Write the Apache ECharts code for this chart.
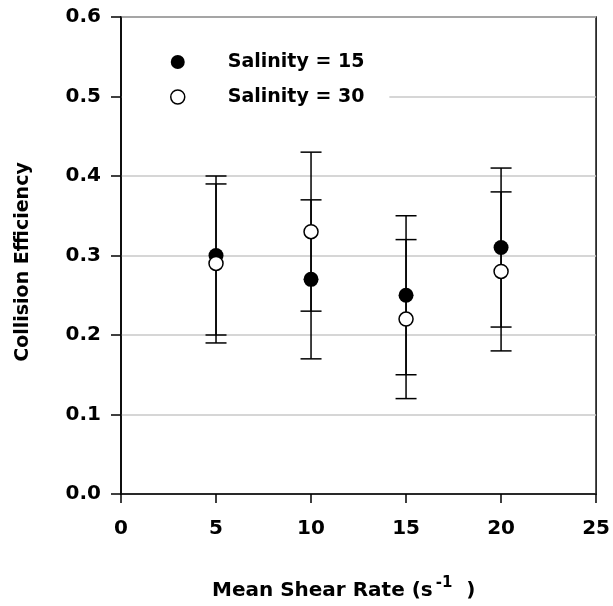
<!DOCTYPE html>
<html>
<head>
<meta charset="utf-8">
<script src="https://cdn.jsdelivr.net/npm/echarts@6/dist/echarts.min.js"></script>
<style>
html,body{margin:0;padding:0;background:#fff;}
#chart{width:613px;height:606px;}
</style>
</head>
<body>
<div id="chart"></div>
<script>
// ---- data ----
var shearRates = [5, 10, 15, 20];
var sal15Mean = [0.30, 0.27, 0.25, 0.31];
var sal15Err  = [0.10, 0.10, 0.10, 0.10];
var sal30Mean = [0.29, 0.33, 0.22, 0.28];
var sal30Err  = [0.10, 0.10, 0.10, 0.10];
var seriesNames = ['Salinity = 15', 'Salinity = 30'];
var xTicks = [0, 5, 10, 15, 20, 25];
var yTicks = [0.0, 0.1, 0.2, 0.3, 0.4, 0.5, 0.6];

var FONT = '"DejaVu Sans", sans-serif';

function pts(means) {
  return shearRates.map(function (x, i) { return [x, means[i]]; });
}
function errData(means, errs) {
  return shearRates.map(function (x, i) { return [x, means[i] - errs[i], means[i] + errs[i]]; });
}
function errRender(params, api) {
  var x = api.value(0);
  var lo = api.coord([x, api.value(1)]);
  var hi = api.coord([x, api.value(2)]);
  var hw = 10.5;
  var st = { stroke: '#000', lineWidth: 1.5 };
  return {
    type: 'group',
    children: [
      { type: 'line', shape: { x1: lo[0], y1: lo[1], x2: hi[0], y2: hi[1] }, style: st },
      { type: 'line', shape: { x1: lo[0] - hw, y1: lo[1], x2: lo[0] + hw, y2: lo[1] }, style: st },
      { type: 'line', shape: { x1: hi[0] - hw, y1: hi[1], x2: hi[0] + hw, y2: hi[1] }, style: st }
    ]
  };
}

var chart = echarts.init(document.getElementById('chart'), null, { renderer: 'canvas' });
var option = {
  backgroundColor: '#fff',
  animation: false,
  grid: {
    left: 121, right: 15, top: 17, bottom: 112,
    show: true, borderColor: '#000', borderWidth: 1.5, backgroundColor: 'transparent'
  },
  legend: {
    orient: 'vertical',
    left: 122, top: 40,
    padding: [12, 25, 12, 48],
    backgroundColor: '#fff',
    itemWidth: 90, itemHeight: 14, itemGap: 15,
    textStyle: { fontFamily: FONT, fontWeight: 'bold', fontSize: 19, color: '#000', lineHeight: 20 },
    data: [
      { name: seriesNames[0], icon: 'circle', itemStyle: { color: '#000', borderWidth: 0 } },
      { name: seriesNames[1], icon: 'circle', itemStyle: { color: '#fff', borderColor: '#000', borderWidth: 1.5 } }
    ]
  },
  xAxis: {
    type: 'value', min: xTicks[0], max: xTicks[xTicks.length - 1], interval: 5,
    axisLine: { show: true, onZero: false, lineStyle: { color: '#000', width: 1.5 } },
    axisTick: { show: true, inside: false, length: 9, lineStyle: { color: '#000', width: 1.5 } },
    axisLabel: { margin: 25, fontFamily: FONT, fontWeight: 'bold', fontSize: 20, color: '#000' },
    splitLine: { show: false }
  },
  yAxis: {
    type: 'value', min: yTicks[0], max: yTicks[yTicks.length - 1], interval: 0.1,
    axisLine: { show: true, lineStyle: { color: '#000', width: 1.5 } },
    axisTick: { show: true, inside: false, length: 10, lineStyle: { color: '#000', width: 1.5 } },
    axisLabel: { margin: 20, fontFamily: FONT, fontWeight: 'bold', fontSize: 20, color: '#000',
      formatter: function (v) { return v.toFixed(1); } },
    splitLine: { show: true, lineStyle: { color: '#c8c8c8', width: 1.5 } }
  },
  graphic: [
    {
      type: 'text', x: 212, y: 588,
      style: {
        text: '{a|Mean Shear Rate (s}{b|-1}{a|  )}',
        align: 'left', verticalAlign: 'middle',
        rich: {
          a: { fontFamily: FONT, fontWeight: 'bold', fontSize: 20, fill: '#000', verticalAlign: 'bottom' },
          b: { fontFamily: FONT, fontWeight: 'bold', fontSize: 15, fill: '#000', padding: [0, 0, 10, 3], verticalAlign: 'bottom' }
        }
      }
    },
    {
      type: 'text', x: 23, y: 262, rotation: Math.PI / 2,
      style: {
        text: 'Collision Efficiency',
        align: 'center', verticalAlign: 'middle',
        fontFamily: FONT, fontWeight: 'bold', fontSize: 19, fill: '#000'
      }
    }
  ],
  series: [
    {
      name: seriesNames[0] + ' err', type: 'custom', renderItem: errRender,
      data: errData(sal15Mean, sal15Err), z: 2, silent: true,
      encode: { x: 0, y: [1, 2] }
    },
    {
      name: seriesNames[1] + ' err', type: 'custom', renderItem: errRender,
      data: errData(sal30Mean, sal30Err), z: 2, silent: true,
      encode: { x: 0, y: [1, 2] }
    },
    {
      name: seriesNames[0], type: 'scatter', data: pts(sal15Mean), symbol: 'circle', symbolSize: 15, z: 5,
      itemStyle: { color: '#000', opacity: 1 }
    },
    {
      name: seriesNames[1], type: 'scatter', data: pts(sal30Mean), symbol: 'circle', symbolSize: 14, z: 5,
      itemStyle: { color: '#fff', borderColor: '#000', borderWidth: 1.5, opacity: 1 }
    }
  ]
};
chart.setOption(option);
</script>
</body>
</html>
